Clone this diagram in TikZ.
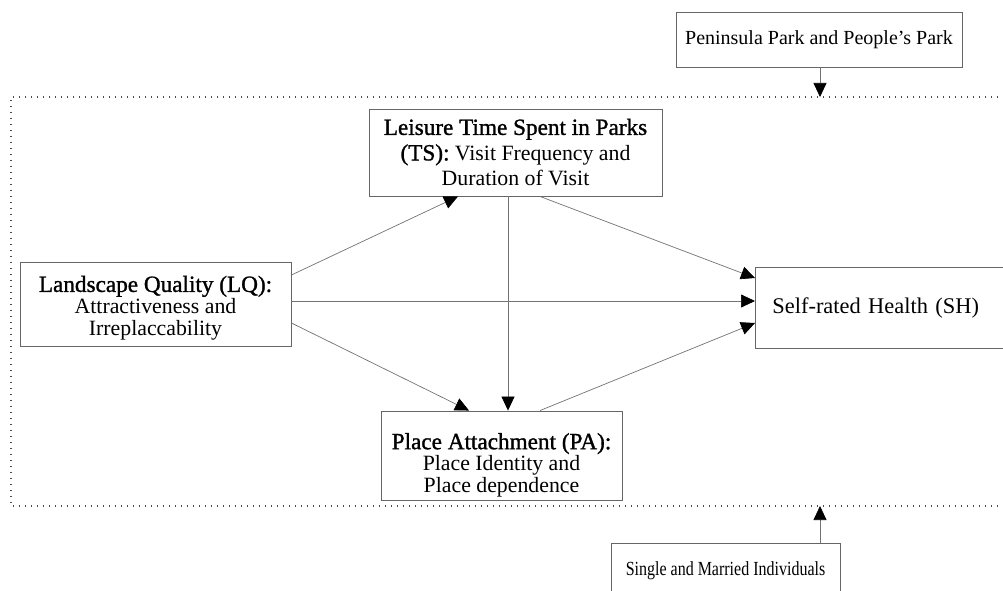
\documentclass[tikz,border=0pt]{standalone}
\usepackage{fontspec}
\setmainfont{Liberation Serif}
\newfontfamily\hdfont[FakeBold=1.2]{Liberation Serif}
\usetikzlibrary{arrows.meta}
\newcommand\hd{\hdfont\fontsize{23.2}{25}\selectfont}
\begin{document}
\begin{tikzpicture}[x=1pt,y=-1pt,
  box/.style={draw=black!60, line width=0.9pt, fill=white, align=center, inner sep=0pt},
  link/.style={draw=black!55, line width=0.7pt, -{Triangle[length=14pt,width=13pt,color=black]}},
  zone/.style={draw=black!70, line width=1.1pt, dash pattern=on 1.1pt off 4.9pt}]
\clip (0,0) rectangle (1003,591);
\fill[white] (0,0) rectangle (1003,591);
% dotted zone
\coordinate (dtop) at (820,97);
\coordinate (dbot) at (820,506);
\draw[zone] (1010,97) -- (11,97) -- (11,506) -- (1010,506);
% nodes
\node[box, minimum width=286pt, minimum height=55pt, font=\fontsize{20}{24}\selectfont] (park) at (819,39.5) {Peninsula Park and People’s Park};
\node[box, minimum width=293pt, minimum height=87pt, font=\fontsize{21.8}{25.5}\selectfont] (TS) at (515.5,152.5)
  {{\hd Leisure Time Spent in Parks}\\{\hd (TS):} Visit Frequency and\\Duration of Visit};
\node[box, minimum width=271pt, minimum height=84pt, font=\fontsize{21.8}{22}\selectfont] (LQ) at (155.5,304)
  {\rule{0pt}{24.5pt}{\hd Landscape Quality (LQ):}\\Attractiveness and\\Irreplaccability};
\node[box, minimum width=241pt, minimum height=89pt, font=\fontsize{21.8}{21.5}\selectfont] (PA) at (501.5,455.5)
  {\rule{0pt}{35pt}{\hd Place Attachment (PA):}\\Place Identity and\\Place dependence};
\node[box, anchor=west, text width=240pt, align=left, inner xsep=17pt, minimum height=81pt, font=\fontsize{22.4}{26}\selectfont] (SH) at (755,307.5)
  {Self-rated Health (SH)};
\node[box, minimum width=229pt, minimum height=55pt, font=\fontsize{20}{24}\selectfont] (single) at (725.5,570.5) {\scalebox{0.8}[1]{Single and Married Individuals}};
% connectors
\draw[link] ([xshift=1pt]park.south) -- (dtop);
\draw[link] (single.north -| dbot) -- (dbot);
\draw[link] ([yshift=29pt]LQ.east) -- ([xshift=-57.5pt]TS.south);
\draw[link] ([yshift=3pt]LQ.east) -- ([yshift=3pt]LQ.east -| SH.west);
\draw[link] ([yshift=-19pt]LQ.east) -- ([xshift=-32.5pt]PA.north);
\draw[link] ([xshift=-7.5pt]TS.south) -- ([xshift=-7.5pt]TS.south |- PA.north);
\draw[link] ([xshift=24.5pt]TS.south) -- ([yshift=29.5pt]SH.west);
\draw[link] ([xshift=38.5pt]PA.north) -- ([yshift=-15.5pt]SH.west);
\end{tikzpicture}
\end{document}
